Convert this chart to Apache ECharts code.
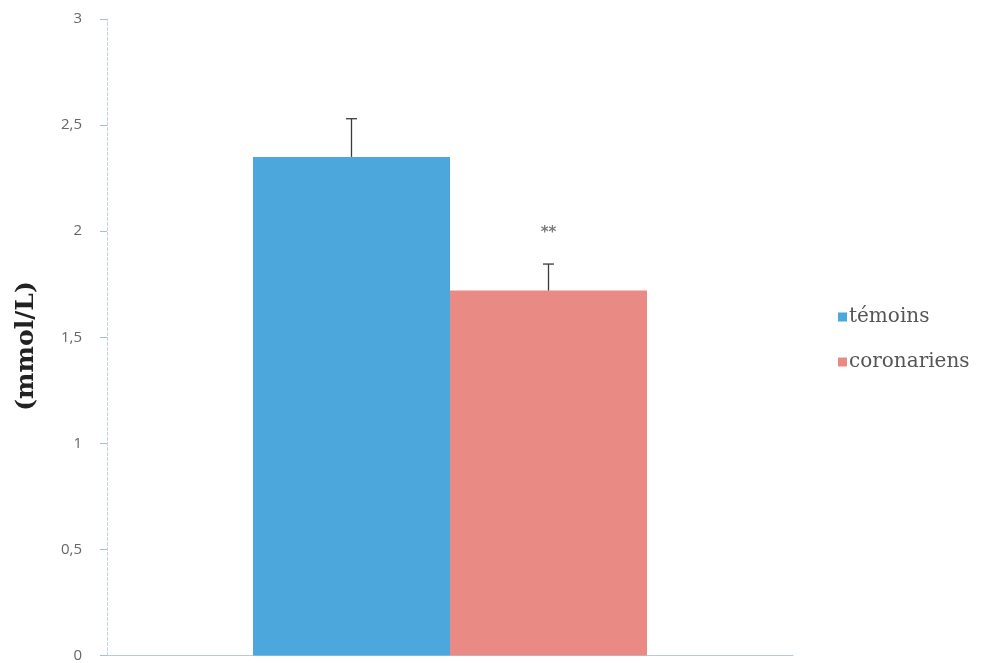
<!DOCTYPE html>
<html>
<head>
<meta charset="utf-8">
<script src="https://cdn.jsdelivr.net/npm/echarts@6/dist/echarts.min.js"></script>
<style>
  html, body { margin: 0; padding: 0; background: #fff; }
  #chart { width: 991px; height: 663px; }
</style>
</head>
<body>
<div id="chart"></div>
<script>
// Groups, means, upper error (SD) and significance marks
const groups = ['témoins', 'coronariens'];
const means = [2.35, 1.72];
const errors = [0.18, 0.125];
const signif = ['', '**'];
const yTickLabels = { 0: '0', 0.5: '0,5', 1: '1', 1.5: '1,5', 2: '2', 2.5: '2,5', 3: '3' };
const yTitle = '(mmol/L)';

const colors = ['#4ba7dc', '#ea8a85'];

const chart = echarts.init(document.getElementById('chart'));

const barSeries = groups.map((g, i) => ({
  name: g,
  type: 'bar',
  data: [means[i]],
  barWidth: 197,
  barGap: '0%',
  itemStyle: { color: colors[i] },
  z: 2
}));

// One error-bar series per group, offset to sit over its own bar
const errSeries = groups.map((g, i) => ({
  type: 'custom',
  name: g + '-err',
  data: [[0, means[i], means[i] + errors[i]]],
  z: 3,
  renderItem: function (params, api) {
    const base = api.coord([api.value(0), api.value(1)]);
    const top = api.coord([api.value(0), api.value(2)]);
    const offset = (i === 0 ? -1 : 1) * 98.5;
    const x = base[0] + offset;
    const cap = 5.5;
    const children = [
      { type: 'line', shape: { x1: x, y1: base[1], x2: x, y2: top[1] }, style: { stroke: '#3a3a3a', lineWidth: 1.3 } },
      { type: 'line', shape: { x1: x - cap, y1: top[1], x2: x + cap, y2: top[1] }, style: { stroke: '#3a3a3a', lineWidth: 1.3 } }
    ];
    const s = signif[i];
    if (s) {
      children.push({
        type: 'text',
        x: x,
        y: top[1] - 31,
        style: { text: s, fill: '#7a7a7a', font: 'bold 15px "DejaVu Sans"', align: 'center', verticalAlign: 'middle' }
      });
    }
    return { type: 'group', children: children };
  }
}));

chart.setOption({
  animation: false,
  backgroundColor: '#ffffff',
  grid: { left: 107, right: 198, top: 19, bottom: 7, containLabel: false },
  legend: {
    data: groups,
    orient: 'vertical',
    left: 833,
    top: 302,
    itemWidth: 9,
    itemHeight: 9,
    itemGap: 25,
    icon: 'rect',
    textStyle: { color: '#555', fontSize: 20, fontFamily: '"DejaVu Serif"', padding: [0, 0, 0, -3] }
  },
  graphic: [{
    type: 'text',
    x: 26,
    y: 346,
    rotation: Math.PI / 2,
    style: {
      text: yTitle,
      fill: '#222',
      font: 'bold 25px "DejaVu Serif"',
      align: 'center',
      verticalAlign: 'middle'
    }
  }],
  xAxis: {
    type: 'category',
    data: [''],
    axisLine: { show: true, lineStyle: { color: '#b9ccd6', width: 1 } },
    axisTick: { show: false },
    axisLabel: { show: false }
  },
  yAxis: {
    type: 'value',
    min: 0,
    max: 3,
    interval: 0.5,
    axisLine: { show: true, lineStyle: { color: '#c4d3db', type: [3, 2] } },
    axisTick: { show: true, inside: false, length: 7, lineStyle: { color: '#aabfca' } },
    splitLine: { show: false },
    axisLabel: {
      color: '#666',
      fontSize: 15,
      fontFamily: '"Open Sans"',
      margin: 25,
      formatter: v => yTickLabels[v] !== undefined ? yTickLabels[v] : ''
    }
  },
  series: barSeries.concat(errSeries)
});
</script>
</body>
</html>
